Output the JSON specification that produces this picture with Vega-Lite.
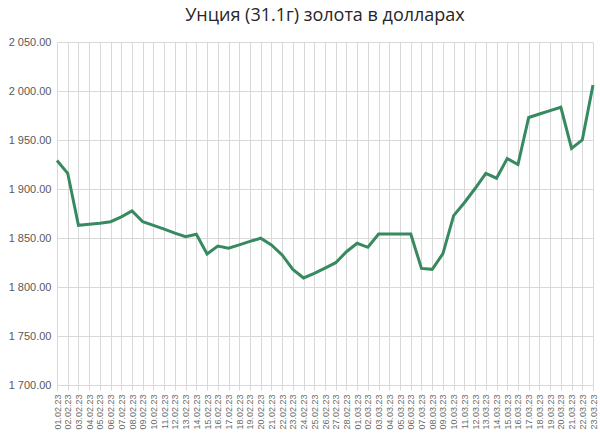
{
  "$schema": "https://vega.github.io/schema/vega-lite/v6.json",
  "width": 536,
  "height": 343,
  "padding": {"left": 8, "top": 7, "right": 7, "bottom": 4},
  "background": "#ffffff",
  "title": {
    "text": "Унция (31.1г) золота в долларах",
    "font": "Open Sans",
    "fontSize": 18,
    "fontWeight": "normal",
    "color": "#262626",
    "anchor": "middle",
    "offset": 11
  },
  "data": {
    "values": [
      {"date": "01.02.23", "price": 1929},
      {"date": "02.02.23", "price": 1916},
      {"date": "03.02.23", "price": 1863},
      {"date": "04.02.23", "price": 1864},
      {"date": "05.02.23", "price": 1865},
      {"date": "06.02.23", "price": 1866.6},
      {"date": "07.02.23", "price": 1871.5},
      {"date": "08.02.23", "price": 1877.6},
      {"date": "09.02.23", "price": 1866.6},
      {"date": "10.02.23", "price": 1862.8},
      {"date": "11.02.23", "price": 1859},
      {"date": "12.02.23", "price": 1855},
      {"date": "13.02.23", "price": 1851.3},
      {"date": "14.02.23", "price": 1853.8},
      {"date": "15.02.23", "price": 1833.7},
      {"date": "16.02.23", "price": 1841.8},
      {"date": "17.02.23", "price": 1839.5},
      {"date": "18.02.23", "price": 1843},
      {"date": "19.02.23", "price": 1846.5},
      {"date": "20.02.23", "price": 1849.8},
      {"date": "21.02.23", "price": 1842.9},
      {"date": "22.02.23", "price": 1832.7},
      {"date": "23.02.23", "price": 1818},
      {"date": "24.02.23", "price": 1809.2},
      {"date": "25.02.23", "price": 1814},
      {"date": "26.02.23", "price": 1819.3},
      {"date": "27.02.23", "price": 1824.8},
      {"date": "28.02.23", "price": 1836},
      {"date": "01.03.23", "price": 1844.6},
      {"date": "02.03.23", "price": 1840.5},
      {"date": "03.03.23", "price": 1854},
      {"date": "04.03.23", "price": 1854},
      {"date": "05.03.23", "price": 1854},
      {"date": "06.03.23", "price": 1854},
      {"date": "07.03.23", "price": 1819},
      {"date": "08.03.23", "price": 1818},
      {"date": "09.03.23", "price": 1834},
      {"date": "10.03.23", "price": 1872.8},
      {"date": "11.03.23", "price": 1886},
      {"date": "12.03.23", "price": 1900.5},
      {"date": "13.03.23", "price": 1916},
      {"date": "14.03.23", "price": 1911},
      {"date": "15.03.23", "price": 1931},
      {"date": "16.03.23", "price": 1925},
      {"date": "17.03.23", "price": 1973},
      {"date": "18.03.23", "price": 1976.5},
      {"date": "19.03.23", "price": 1980},
      {"date": "20.03.23", "price": 1983.4},
      {"date": "21.03.23", "price": 1941.5},
      {"date": "22.03.23", "price": 1950},
      {"date": "23.03.23", "price": 2006}
    ]
  },
  "mark": {"type": "line", "color": "#378A5F", "strokeWidth": 3, "strokeJoin": "miter"},
  "encoding": {
    "x": {
      "field": "date",
      "type": "ordinal",
      "sort": null,
      "scale": {"type": "point", "padding": 0},
      "axis": {
        "title": null,
        "labelAngle": -90,
        "labelFont": "Liberation Sans",
        "labelFontSize": 9,
        "labelColor": "#6b6b6b",
        "labelPadding": 4,
        "grid": true,
        "gridColor": "#d9d9d9",
        "domainColor": "#d9d9d9",
        "tickColor": "#d9d9d9",
        "tickSize": 5
      }
    },
    "y": {
      "field": "price",
      "type": "quantitative",
      "scale": {"domain": [1700, 2050], "nice": false, "zero": false},
      "axis": {
        "title": null,
        "values": [1700, 1750, 1800, 1850, 1900, 1950, 2000, 2050],
        "labelExpr": "replace(format(datum.value, ',.2f'), ',', ' ')",
        "labelFont": "Liberation Sans",
        "labelFontSize": 11,
        "labelColor": "#595959",
        "labelPadding": 6,
        "grid": true,
        "gridColor": "#d9d9d9",
        "domain": false,
        "ticks": false
      }
    }
  },
  "config": {"view": {"stroke": null}}
}
